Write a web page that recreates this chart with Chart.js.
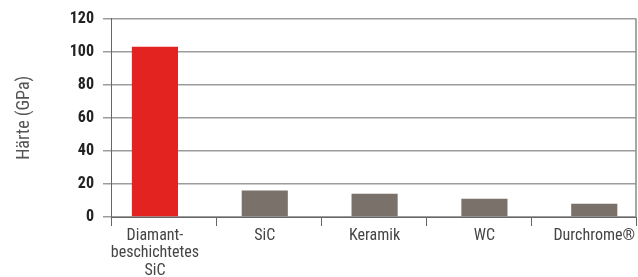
<!DOCTYPE html>
<html>
<head>
<meta charset="utf-8">
<script src="https://cdn.jsdelivr.net/npm/chart.js@4"></script>
<style>
  html, body { margin: 0; padding: 0; background: #fff; }
  #wrap { width: 638px; height: 277px; }
</style>
</head>
<body>
<div id="wrap"><canvas id="haerteChart"></canvas></div>
<script>
// ---- data ----
const categories = [
    ['Diamant-', 'beschichtetes', 'SiC'],
    'SiC',
    'Keramik',
    'WC',
    'Durchrome\u00AE'
];
const haerteValues = [103, 16, 14, 11, 8];
const barColors = ['#e2231f', '#7a716b', '#7a716b', '#7a716b', '#7a716b'];
const yTicks = [0, 20, 40, 60, 80, 100, 120];

const fontFam = '"Liberation Sans Narrow", "Roboto Condensed", "Arial Narrow", "Liberation Sans", sans-serif';

// right frame line
const rightBorder = {
    id: 'rightBorder',
    afterDraw(chart) {
        const { ctx, chartArea } = chart;
        ctx.save();
        ctx.strokeStyle = '#8a8a8a';
        ctx.lineWidth = 1.5;
        ctx.beginPath();
        ctx.moveTo(chartArea.right, chartArea.top);
        ctx.lineTo(chartArea.right, chartArea.bottom);
        ctx.stroke();
        ctx.restore();
    }
};

const ctx = document.getElementById('haerteChart').getContext('2d');
new Chart(ctx, {
    type: 'bar',
    data: {
        labels: categories,
        datasets: [{
            data: haerteValues.map((v, i) => ({ x: i, y: v })),
            backgroundColor: barColors,
            borderWidth: 0,
            categoryPercentage: 1,
            barPercentage: 0.42
        }]
    },
    options: {
        responsive: true,
        maintainAspectRatio: false,
        animation: false,
        layout: { padding: { top: 6, right: 2, left: 0, bottom: 0 } },
        plugins: {
            legend: { display: false },
            tooltip: { enabled: false }
        },
        scales: {
            y: {
                min: 0,
                max: 120,
                afterBuildTicks: (axis) => { axis.ticks = yTicks.map(v => ({ value: v })); },
                afterFit: (axis) => { axis.width = 111; },
                border: { color: '#666', width: 1 },
                grid: { color: '#9c9c9c', lineWidth: 1.5, tickLength: 8 },
                ticks: {
                    color: '#222',
                    padding: 9,
                    font: { family: fontFam, size: 16, weight: 'bold' }
                },
                title: {
                    display: true,
                    text: 'Härte (GPa)',
                    color: '#555',
                    padding: { top: 14, bottom: 0 },
                    font: { family: fontFam, size: 18 }
                }
            },
            // bars and labels sit on their own spacing in the original
            x: {
                type: 'linear',
                position: 'bottom',
                weight: 1,
                offset: false,
                min: -0.4,
                max: 4.38,
                afterBuildTicks: (axis) => { axis.ticks = categories.map((c, i) => ({ value: i })); },
                afterFit: (axis) => { axis.height = 51; },
                border: { display: false },
                grid: { display: false, drawTicks: false, tickLength: 0 },
                ticks: {
                    color: '#444',
                    padding: 1,
                    maxRotation: 0,
                    autoSkip: false,
                    callback: (v) => categories[v],
                    font: { family: fontFam, size: 16, lineHeight: 1.1 }
                }
            },
            // tick marks between categories
            xTicks: {
                type: 'category',
                position: 'bottom',
                weight: 0,
                labels: categories.map(() => ''),
                offset: true,
                afterFit: (axis) => { axis.height = 9; },
                border: { color: '#666', width: 1 },
                grid: { drawOnChartArea: false, color: '#666', tickLength: 9, offset: true },
                ticks: { display: false }
            }
        }
    },
    plugins: [rightBorder]
});
</script>
</body>
</html>
